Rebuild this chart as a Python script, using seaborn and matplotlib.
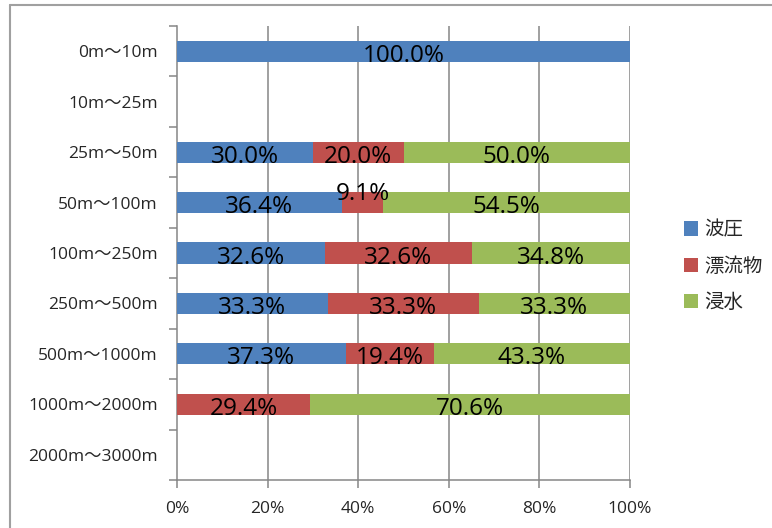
import numpy as np
import pandas as pd
import matplotlib
matplotlib.use("Agg")
import matplotlib.pyplot as plt
from matplotlib.lines import Line2D
from matplotlib.patches import Patch
import seaborn as sns

categories = ["0m〜10m", "10m〜25m", "25m〜50m", "50m〜100m", "100m〜250m",
              "250m〜500m", "500m〜1000m", "1000m〜2000m", "2000m〜3000m"]
series_names = ["波圧", "漂流物", "浸水"]
wave = [100.0, 0.0, 30.0, 36.4, 32.6, 33.3, 37.3, 0.0, 0.0]
debris = [0.0, 0.0, 20.0, 9.1, 32.6, 33.3, 19.4, 29.4, 0.0]
flood = [0.0, 0.0, 50.0, 54.5, 34.8, 33.3, 43.3, 70.6, 0.0]
x_ticks = [0, 20, 40, 60, 80, 100]
x_tick_labels = ["0%", "20%", "40%", "60%", "80%", "100%"]

colors = ["#4F81BD", "#C0504D", "#9BBB59"]
grid_color = "#868686"

sns.set_theme(style="white")
plt.rcParams["font.family"] = ["Open Sans", "Noto Sans CJK JP", "DejaVu Sans"]

W, H = 772, 528
fig = plt.figure(figsize=(W / 100, H / 100), dpi=100)
ax = fig.add_axes([177 / W, 1 - 480 / H, (630 - 177) / W, (480 - 26) / H])

series = [wave, debris, flood]
cum = np.cumsum(np.array(series), axis=0)  # running totals per category

# stacked bars: draw the running totals from the longest down
for i in reversed(range(len(series))):
    df = pd.DataFrame({"cat": categories, "val": cum[i]})
    sns.barplot(data=df, x="val", y="cat", order=categories, orient="h",
                color=colors[i], saturation=1, width=0.42, linewidth=0,
                ax=ax, zorder=3)

ax.set_xlim(0, 100)
ax.set_ylim(len(categories) - 0.5, -0.5)
ax.set_xlabel("")
ax.set_ylabel("")

# value labels in the middle of each segment
starts = cum - np.array(series)
for i, vals in enumerate(series):
    for j, v in enumerate(vals):
        if v <= 0:
            continue
        xc = starts[i][j] + v / 2
        yc = j + 0.09
        if v < 12 and i == 1:
            yc = j - 0.17
        ax.text(xc, yc, f"{v:.1f}%", ha="center", va="center",
                fontsize=17.5, color="black", zorder=5)

# vertical gridlines
for xv in x_ticks[1:]:
    ax.axvline(xv, color=grid_color, lw=1.1, zorder=1)

ax.set_xticks(x_ticks)
ax.set_xticklabels(x_tick_labels, fontsize=12.5)
ax.set_yticks(range(len(categories)))
ax.set_yticklabels(categories, fontsize=12.5)
ax.set_yticks(np.arange(-0.5, len(categories), 1.0), minor=True)
ax.tick_params(axis="y", which="major", length=0, pad=14)
ax.tick_params(axis="y", which="minor", length=6, width=1.1, color=grid_color, left=True)
ax.tick_params(axis="x", which="major", length=6, width=1.1, color=grid_color,
               bottom=True, pad=9)

for side in ["top", "right"]:
    ax.spines[side].set_visible(False)
for side in ["left", "bottom"]:
    ax.spines[side].set_color(grid_color)
    ax.spines[side].set_linewidth(1.1)

handles = [Patch(facecolor=c, edgecolor="none") for c in colors]
fig.legend(handles, series_names, loc="center left",
           bbox_to_anchor=(666 / W, 1 - 266 / H), frameon=False,
           handlelength=0.75, handleheight=0.75,
           handletextpad=0.3, labelspacing=0.78,
           prop={"family": ["Noto Sans CJK JP"], "size": 14})

# outer chart frame
fig.add_artist(Line2D([9.5 / W, 1.0], [1 - 4.5 / H, 1 - 4.5 / H],
                      color="#A0A0A0", lw=1.5, transform=fig.transFigure))
fig.add_artist(Line2D([9.5 / W, 9.5 / W], [0.0, 1 - 4.5 / H],
                      color="#A0A0A0", lw=1.5, transform=fig.transFigure))

fig.savefig("out.png", dpi=100, facecolor="white")
